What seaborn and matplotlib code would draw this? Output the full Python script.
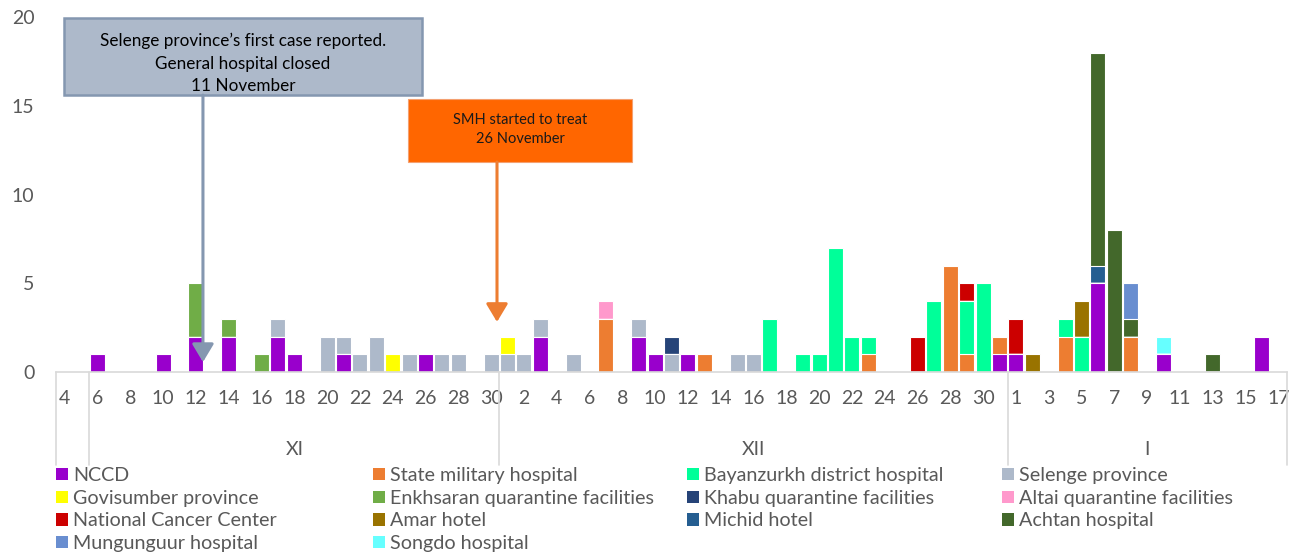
import numpy as np
import pandas as pd
import seaborn as sns
import matplotlib.pyplot as plt
from matplotlib.patches import Rectangle, Patch
from matplotlib.transforms import blended_transform_factory

# days on the axis, grouped by month
nov_days = list(range(4, 31))
dec_days = list(range(1, 32))
jan_days = list(range(1, 18))
month_names = ['XI', 'XII', 'I']

# daily cases by source (month-day: count)
nccd = {'11-06': 1, '11-10': 1, '11-12': 2, '11-14': 2, '11-17': 2, '11-18': 1,
        '11-21': 1, '11-26': 1, '12-03': 2, '12-09': 2, '12-10': 1, '12-12': 1,
        '12-31': 1, '01-01': 1, '01-06': 5, '01-10': 1, '01-16': 2}
state_military = {'12-07': 3, '12-13': 1, '12-23': 1, '12-28': 6, '12-29': 1,
                  '12-31': 1, '01-04': 2, '01-08': 2}
bayanzurkh = {'12-17': 3, '12-19': 1, '12-20': 1, '12-21': 7, '12-22': 2,
              '12-23': 1, '12-27': 4, '12-29': 3, '12-30': 5, '01-04': 1, '01-05': 2}
selenge = {'11-17': 1, '11-20': 2, '11-21': 1, '11-22': 1, '11-23': 2, '11-25': 1,
           '11-27': 1, '11-28': 1, '11-30': 1, '12-01': 1, '12-02': 1, '12-03': 1,
           '12-05': 1, '12-09': 1, '12-11': 1, '12-15': 1, '12-16': 1}
govisumber = {'11-24': 1, '12-01': 1}
enkhsaran = {'11-12': 3, '11-14': 1, '11-16': 1}
khabu = {'12-11': 1}
altai = {'12-07': 1}
cancer_center = {'12-26': 2, '12-29': 1, '01-01': 2}
amar = {'01-02': 1, '01-05': 2}
michid = {'01-06': 1}
achtan = {'01-06': 12, '01-07': 8, '01-08': 1, '01-13': 1}
mungunguur = {'01-08': 2}
songdo = {'01-10': 1}

source_names = ['NCCD', 'State military hospital', 'Bayanzurkh district hospital',
                'Selenge province', 'Govisumber province', 'Enkhsaran quarantine facilities',
                'Khabu quarantine facilities', 'Altai quarantine facilities',
                'National Cancer Center', 'Amar hotel', 'Michid hotel', 'Achtan hospital',
                'Mungunguur hospital', 'Songdo hospital']
source_counts = [nccd, state_military, bayanzurkh, selenge, govisumber, enkhsaran,
                 khabu, altai, cancer_center, amar, michid, achtan, mungunguur, songdo]
source_colors = ['#9900CC', '#ED7D31', '#00FF99', '#ADB9CA', '#FFFF00', '#70AD47',
                 '#264478', '#FF99CC', '#CC0000', '#997300', '#255E91', '#43682B',
                 '#698ED0', '#66FFFF']

keys = ([f'11-{d:02d}' for d in nov_days] + [f'12-{d:02d}' for d in dec_days]
        + [f'01-{d:02d}' for d in jan_days])
day_labels = nov_days + dec_days + jan_days

wide = pd.DataFrame({name: [c.get(k, 0) for k in keys]
                     for name, c in zip(source_names, source_counts)}, index=keys)
stacked = wide.cumsum(axis=1)
stacked.index.name = 'date'
stacked = stacked.reset_index()

sns.set_style('white')
plt.rcParams['font.family'] = ['Lato', 'DejaVu Sans']
grey_txt = '#595959'

fig = plt.figure(figsize=(13.02, 5.54), dpi=100)
ax = fig.add_axes([56.5 / 1302, 182 / 554, 1230 / 1302, 355 / 554])

# draw tallest cumulative first, lower layers on top
for name, col in reversed(list(zip(source_names, source_colors))):
    sns.barplot(data=stacked, x='date', y=name, order=keys, color=col, saturation=1,
                width=0.92, edgecolor='white', linewidth=0.8, errorbar=None, ax=ax)

ax.set_xlim(-0.5, len(keys) - 0.5)
ax.set_ylim(0, 20)
ax.set_yticks([0, 5, 10, 15, 20])
ax.set_xticks(range(0, len(keys), 2))
ax.set_xticklabels([str(d) for d in day_labels[::2]])
ax.set_xlabel('')
ax.set_ylabel('')
ax.tick_params(axis='y', length=0, pad=16, labelsize=14, labelcolor=grey_txt)
ax.tick_params(axis='x', length=0, pad=13, labelsize=14, labelcolor=grey_txt)
for s in ['top', 'right', 'left']:
    ax.spines[s].set_visible(False)
ax.spines['bottom'].set_color('#D9D9D9')
ax.spines['bottom'].set_linewidth(1.2)

# month groups under the day labels
trans = blended_transform_factory(ax.transData, ax.transAxes)
bounds = [-0.5, 1.5, 1.5 + len(nov_days) - 2, 1.5 + len(nov_days) - 2 + len(dec_days),
          len(keys) - 0.5]
for b in bounds:
    ax.plot([b, b], [0, -0.262], transform=trans, clip_on=False, color='#D9D9D9', lw=1.2)
for lo, hi, m in zip(bounds[1:-1], bounds[2:], month_names):
    ax.text((lo + hi) / 2, -0.217, m, transform=trans, ha='center', va='center',
            fontsize=14, color=grey_txt)

# callouts
ax.add_patch(Rectangle((-0.04, 15.6), 21.83, 4.34, facecolor='#ADB9CA', edgecolor='#8497B0',
                       lw=1.8, clip_on=False, zorder=5))
ax.text(10.87, 17.39, 'Selenge province’s first case reported.\nGeneral hospital closed\n11 November',
        ha='center', va='center', fontsize=12.3, linespacing=1.5, color='black', zorder=6)
ax.annotate('', xy=(8.43, 0.56), xytext=(8.43, 15.6),
            arrowprops=dict(arrowstyle='-|>,head_length=0.5,head_width=0.3', color='#8497B0',
                            lw=2.2, shrinkA=0, shrinkB=0, mutation_scale=22), zorder=6)

ax.add_patch(Rectangle((20.93, 11.83), 13.66, 3.55, facecolor='#FF6600', edgecolor='#F4A070',
                       lw=0.8, clip_on=False, zorder=5))
ax.text(27.76, 13.66, 'SMH started to treat\n26 November', ha='center', va='center',
        fontsize=10.5, linespacing=1.4, color='#1A1A1A', zorder=6)
ax.annotate('', xy=(26.36, 2.82), xytext=(26.36, 11.83),
            arrowprops=dict(arrowstyle='-|>,head_length=0.5,head_width=0.3', color='#ED7D31',
                            lw=2.2, shrinkA=0, shrinkB=0, mutation_scale=22), zorder=6)

# legend laid out row by row in four columns
col_x = [56, 373, 687, 1002]
for c, x0 in enumerate(col_x):
    idx = list(range(c, len(source_names), 4))
    handles = [Patch(facecolor=source_colors[i], edgecolor='none') for i in idx]
    fig.legend(handles, [source_names[i] for i in idx], loc='upper left',
               bbox_to_anchor=(x0 / 1302, 1 - 467 / 554), frameon=False,
               fontsize=14.2, labelcolor=grey_txt, handlelength=0.59, handleheight=0.59,
               handletextpad=0.28, labelspacing=0.29, borderpad=0, borderaxespad=0)

fig.savefig('out.png', dpi=100)
